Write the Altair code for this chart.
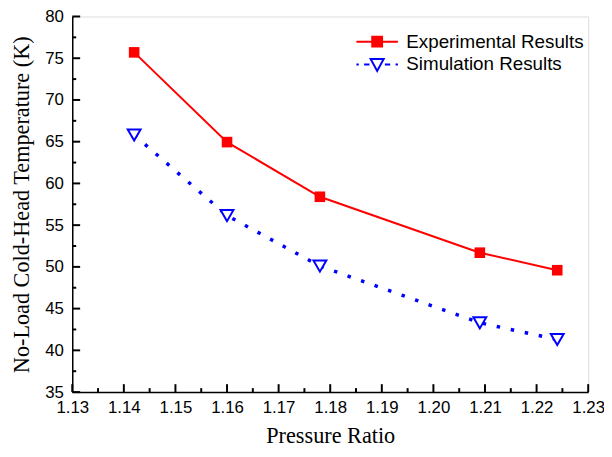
import altair as alt
import pandas as pd

pressure = [1.142, 1.160, 1.178, 1.209, 1.224]
exp_temp = [75.7, 64.95, 58.4, 51.7, 49.6]
sim_temp = [65.8, 56.15, 50.1, 43.3, 41.3]
series_names = ["Experimental Results", "Simulation Results"]
x_major = [1.13, 1.14, 1.15, 1.16, 1.17, 1.18, 1.19, 1.20, 1.21, 1.22, 1.23]
x_minor = [1.135, 1.145, 1.155, 1.165, 1.175, 1.185, 1.195, 1.205, 1.215, 1.225]
y_major = [35, 40, 45, 50, 55, 60, 65, 70, 75, 80]
y_minor = [37.5, 42.5, 47.5, 52.5, 57.5, 62.5, 67.5, 72.5, 77.5]

exp_df = pd.DataFrame({"p": pressure, "t": exp_temp})
sim_df = pd.DataFrame({"p": pressure, "t": sim_temp})
leg_df = pd.DataFrame({"series": series_names})

W, H = 522, 380
xs = alt.Scale(domain=[1.13, 1.23], nice=False, zero=False)
ys = alt.Scale(domain=[35, 80], nice=False, zero=False)

SANS = "Liberation Sans"
SERIF = "Liberation Serif"

main_x = alt.Axis(orient="bottom", values=x_major, format=".2f", tickSize=0,
                  labelFont=SANS, labelFontSize=17, labelColor="black",
                  labelPadding=8, labelFlush=False, labelOverlap=False,
                  title="Pressure Ratio", titleFont=SERIF,
                  titleFontSize=22.5, titleFontWeight="normal", titleColor="black",
                  titlePadding=9, grid=False, domainColor="black", domainWidth=1.5)
main_y = alt.Axis(orient="left", values=y_major, tickSize=0,
                  labelFont=SANS, labelFontSize=17, labelColor="black",
                  labelPadding=9, labelFlush=False, labelOverlap=False,
                  title="No-Load Cold-Head Temperature (K)",
                  titleFont=SERIF, titleFontSize=22.5, titleFontWeight="normal",
                  titleColor="black", titlePadding=11, grid=False,
                  domainColor="black", domainWidth=1.5)

def xticks(vals, length):
    d = pd.DataFrame({"v": vals})
    return alt.Chart(d).mark_rule(color="#000000", strokeWidth=2, opacity=1).encode(
        x=alt.X("v:Q", scale=xs, axis=main_x), y=alt.value(H), y2=alt.value(H - length))

def yticks(vals, length):
    d = pd.DataFrame({"w": vals})
    return alt.Chart(d).mark_rule(color="#000000", strokeWidth=2, opacity=1).encode(
        y=alt.Y("w:Q", scale=ys, axis=main_y), x=alt.value(0), x2=alt.value(length))

exp_line = alt.Chart(exp_df).mark_line(color="#ff0000", strokeWidth=2).encode(
    x=alt.X("p:Q", scale=xs, axis=main_x), y=alt.Y("t:Q", scale=ys, axis=main_y))
sim_line = alt.Chart(sim_df).mark_line(
    color="#0000ff", strokeWidth=3.5, strokeDash=[3.5, 11]).encode(
    x=alt.X("p:Q", scale=xs, axis=main_x), y=alt.Y("t:Q", scale=ys, axis=main_y))
exp_pts = alt.Chart(exp_df).mark_square(color="#ff0000", size=115, opacity=1).encode(
    x=alt.X("p:Q", scale=xs, axis=main_x), y=alt.Y("t:Q", scale=ys, axis=main_y))
sim_pts = alt.Chart(sim_df).mark_point(
    shape="triangle-down", color="#0000ff", size=170, strokeWidth=2, fill="white",
    filled=False, opacity=1).encode(
    x=alt.X("p:Q", scale=xs, axis=main_x), y=alt.Y("t:Q", scale=ys, axis=main_y))

exp_sym = "M-3.5,0H3.5M-0.83,-0.83H0.83V0.83H-0.83Z"
sim_sym = ("M-3.5,0H-3.1M-2.2,0H-1.3M1.3,0H2.2M3.1,0H3.5"
           "M-1.1,-0.9H1.1L0,1.1Z")

legend = alt.Legend(title=None, orient="none", legendX=299, legendY=16,
                    symbolSize=144, symbolStrokeWidth=2, symbolOpacity=1,
                    labelOffset=20, labelFont=SANS, labelFontSize=19,
                    labelColor="black", labelLimit=0, rowPadding=3, padding=0)
legend_layer = alt.Chart(leg_df).transform_filter("false").mark_point(
    filled=False, strokeWidth=2, opacity=1).encode(
    color=alt.Color("series:N", scale=alt.Scale(domain=series_names,
                    range=["#ff0000", "#0000ff"]), legend=legend),
    fill=alt.Fill("series:N", scale=alt.Scale(domain=series_names,
                  range=["#ff0000", "transparent"]), legend=legend),
    shape=alt.Shape("series:N", scale=alt.Scale(domain=series_names,
                    range=[exp_sym, sim_sym]), legend=legend),
)

chart = alt.layer(
    xticks(x_major, 8), xticks(x_minor, 4), yticks(y_major, 8), yticks(y_minor, 4),
    exp_line, sim_line, exp_pts, sim_pts, legend_layer,
).properties(
    width=W, height=H, autosize="none",
    padding={"left": 65, "top": 6, "right": 16, "bottom": 55},
).configure_view(stroke="black", strokeWidth=1.5).configure(background="white")

chart.save("out.html", embed_options={"renderer": "svg", "actions": False})
